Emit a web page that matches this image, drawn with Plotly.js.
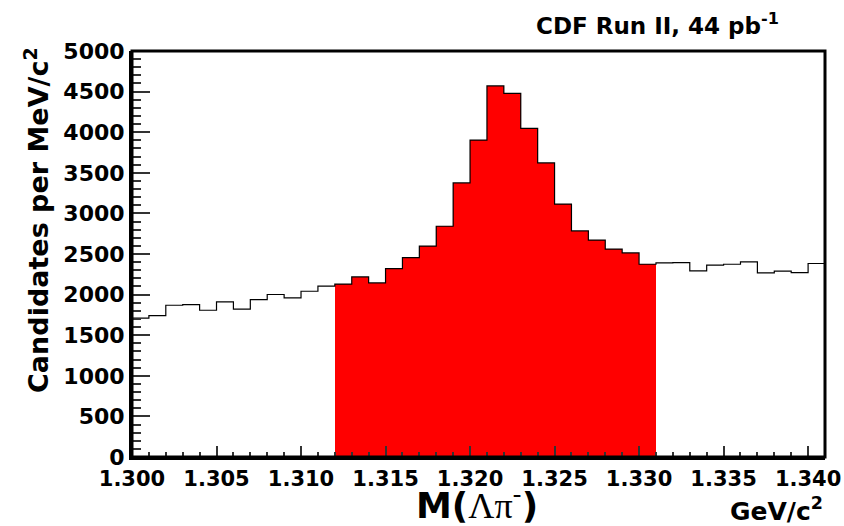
<!DOCTYPE html>
<html>
<head>
<meta charset="utf-8">
<script src="https://cdn.plot.ly/plotly-3.0.1.min.js"></script>
<style>html,body{margin:0;padding:0;background:#fff;}#chart{width:844px;height:526px;}</style>
</head>
<body>
<div id="chart"></div>
<script>
// Histogram definition
const binStart = 1.300;   // GeV/c^2, lower edge of first bin
const binWidth = 0.001;   // GeV/c^2
const counts = [1710, 1740, 1869, 1877, 1807, 1910, 1820, 1939, 2001, 1959,
                2041, 2105, 2128, 2218, 2144, 2321, 2456, 2596, 2842, 3376,
                3902, 4571, 4477, 4046, 3622, 3113, 2784, 2670, 2559, 2514,
                2374, 2390, 2395, 2292, 2362, 2374, 2403, 2267, 2288, 2271,
                2383];
const signalLo = 1.312;   // signal window (filled red)
const signalHi = 1.331;
const xMajorStep = 0.005;
const yMajorStep = 500;
const yMinorStep = 100;
const yMax = 5000;

const edges = counts.map((_, i) => +(binStart + i * binWidth).toFixed(6));
edges.push(+(binStart + counts.length * binWidth).toFixed(6));
const centers = counts.map((_, i) => edges[i] + binWidth / 2);

const sigX = [], sigY = [];
centers.forEach((c, i) => {
  if (c > signalLo && c < signalHi) { sigX.push(c); sigY.push(counts[i]); }
});

const FONT = 'DejaVu Sans, Liberation Sans, Arial, sans-serif';
const xRange = [edges[0], edges[edges.length - 1]];
const yRange = [0, yMax];
const TICKC = '#333333';

const traces = [
  // empty traces so the tick-only subplots exist
  {type: 'scatter', mode: 'lines', x: [], y: [], xaxis: 'x', yaxis: 'y', hoverinfo: 'skip', showlegend: false},
  {type: 'scatter', mode: 'lines', x: [], y: [], xaxis: 'x2', yaxis: 'y2', hoverinfo: 'skip', showlegend: false},
  {
    type: 'bar', x: sigX, y: sigY, width: binWidth, xaxis: 'x3', yaxis: 'y3',
    marker: {color: '#ff0000', line: {width: 0}},
    hoverinfo: 'skip', showlegend: false
  },
  {
    type: 'scatter', mode: 'lines', xaxis: 'x3', yaxis: 'y3',
    x: edges, y: counts.concat([counts[counts.length - 1]]),
    line: {shape: 'hv', color: '#000000', width: 1.2},
    hoverinfo: 'skip', showlegend: false
  }
];

const hidden = {showline: false, showgrid: false, zeroline: false, showticklabels: false, ticks: ''};

const layout = {
  width: 844, height: 526,
  margin: {l: 132, r: 19, t: 51, b: 69, pad: 0},
  paper_bgcolor: '#ffffff', plot_bgcolor: '#ffffff',
  bargap: 0,
  showlegend: false,
  font: {family: FONT, color: '#000'},
  // major ticks + labels
  xaxis: {
    range: xRange,
    tickmode: 'linear', tick0: binStart, dtick: xMajorStep, tickformat: '.3f',
    ticks: 'inside', ticklen: 11, tickwidth: 2, tickcolor: TICKC,
    showline: true, linewidth: 3, linecolor: '#000', mirror: false,
    showgrid: false, zeroline: false,
    tickfont: {family: FONT, size: 21, weight: 'bold', color: '#000'},
    ticklabelstandoff: 1
  },
  yaxis: {
    range: yRange,
    tickmode: 'linear', tick0: 0, dtick: yMajorStep, tickformat: 'd',
    ticks: 'inside', ticklen: 18, tickwidth: 2, tickcolor: TICKC,
    showline: true, linewidth: 3, linecolor: '#000', mirror: false,
    showgrid: false, zeroline: false,
    tickfont: {family: FONT, size: 22, weight: 'bold', color: '#000'},
    ticklabelstandoff: 0
  },
  // minor ticks
  xaxis2: {
    overlaying: 'x', anchor: 'y2', side: 'bottom', range: xRange,
    tickmode: 'linear', tick0: binStart, dtick: binWidth,
    ticks: 'inside', ticklen: 5, tickwidth: 2, tickcolor: TICKC,
    showline: false, showgrid: false, zeroline: false, showticklabels: false
  },
  yaxis2: {
    overlaying: 'y', anchor: 'x2', side: 'left', range: yRange,
    tickmode: 'linear', tick0: 0, dtick: yMinorStep,
    ticks: 'inside', ticklen: 9, tickwidth: 2, tickcolor: TICKC,
    showline: false, showgrid: false, zeroline: false, showticklabels: false
  },
  // data axes (drawn above the ticks)
  xaxis3: Object.assign({overlaying: 'x', anchor: 'y3', side: 'bottom', range: xRange}, hidden),
  yaxis3: Object.assign({overlaying: 'y', anchor: 'x3', side: 'left', range: yRange}, hidden),
  shapes: [
    // pad frame
    {type: 'rect', xref: 'paper', yref: 'paper', x0: 0, x1: 1, y0: 0, y1: 1,
     line: {color: '#000', width: 3}, fillcolor: 'rgba(0,0,0,0)', layer: 'above'}
  ],
  annotations: [
    {
      text: '<b>Candidates per MeV/c<sup>2</sup></b>',
      xref: 'paper', yref: 'paper', x: -0.137, y: 0.584,
      xanchor: 'center', yanchor: 'middle', textangle: -90, showarrow: false,
      font: {family: FONT, size: 27, color: '#000'}
    },
    {
      text: '<b>M(</b><span style="font-family:Liberation Serif">Λπ</span><sup>-</sup><b>)</b>',
      xref: 'paper', yref: 'paper', x: 0.498, y: -0.113,
      xanchor: 'center', yanchor: 'middle', showarrow: false,
      font: {family: FONT, size: 36, color: '#000'}
    },
    {
      text: '<b>GeV/c<sup>2</sup></b>',
      xref: 'paper', yref: 'paper', x: 1.0, y: -0.13,
      xanchor: 'right', yanchor: 'middle', showarrow: false,
      font: {family: FONT, size: 25, color: '#000'}
    },
    {
      text: '<b>CDF Run II, 44 pb<sup>-1</sup></b>',
      xref: 'paper', yref: 'paper', x: 0.9365, y: 1.066,
      xanchor: 'right', yanchor: 'middle', showarrow: false,
      font: {family: FONT, size: 23, color: '#000'}
    }
  ]
};

Plotly.newPlot('chart', traces, layout, {displayModeBar: false, staticPlot: true});
</script>
</body>
</html>
